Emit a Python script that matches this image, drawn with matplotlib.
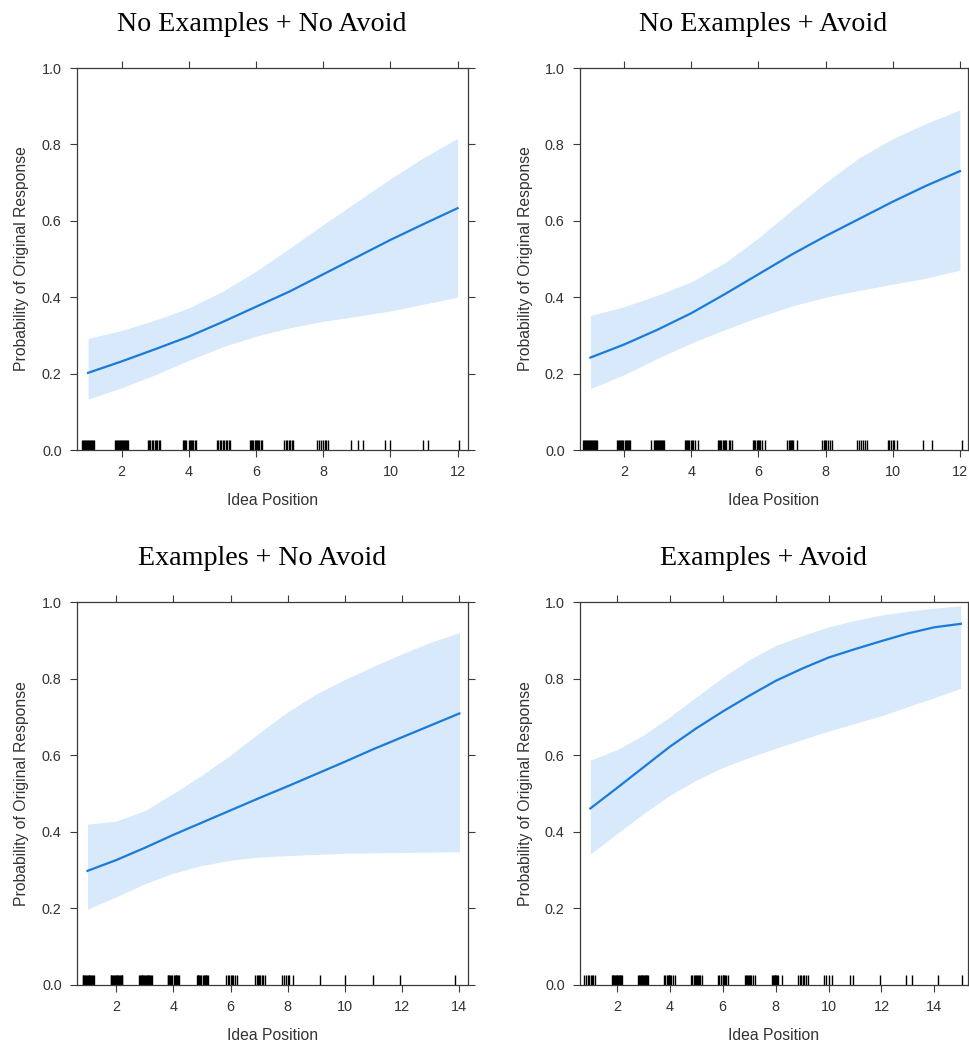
import numpy as np
import matplotlib.pyplot as plt

# panel titles
titles = ["No Examples + No Avoid", "No Examples + Avoid",
          "Examples + No Avoid", "Examples + Avoid"]

# idea positions used for each fitted curve
x1 = [1, 2, 3, 4, 5, 6, 7, 8, 9, 10, 11, 12]
x2 = [1, 2, 3, 4, 5, 6, 7, 8, 9, 10, 11, 12]
x3 = [1, 2, 3, 4, 5, 6, 7, 8, 9, 10, 11, 12, 13, 14]
x4 = [1, 2, 3, 4, 5, 6, 7, 8, 9, 10, 11, 12, 13, 14, 15]

# fitted probability and confidence band
fit1 = [0.202, 0.232, 0.264, 0.297, 0.335, 0.375, 0.415, 0.46, 0.505, 0.55, 0.592, 0.633]
up1 = [0.292, 0.313, 0.34, 0.372, 0.415, 0.468, 0.528, 0.59, 0.65, 0.71, 0.766, 0.816]
lo1 = [0.133, 0.163, 0.197, 0.235, 0.27, 0.298, 0.32, 0.337, 0.35, 0.364, 0.382, 0.40]

fit2 = [0.242, 0.276, 0.315, 0.358, 0.408, 0.46, 0.512, 0.56, 0.605, 0.65, 0.692, 0.73]
up2 = [0.352, 0.375, 0.405, 0.44, 0.49, 0.555, 0.628, 0.70, 0.765, 0.815, 0.855, 0.89]
lo2 = [0.161, 0.197, 0.24, 0.28, 0.315, 0.348, 0.377, 0.40, 0.418, 0.434, 0.45, 0.471]

fit3 = [0.298, 0.326, 0.358, 0.392, 0.424, 0.456, 0.488, 0.519, 0.551, 0.583, 0.616, 0.647, 0.678, 0.709]
up3 = [0.42, 0.428, 0.455, 0.50, 0.548, 0.60, 0.658, 0.713, 0.76, 0.798, 0.832, 0.865, 0.895, 0.92]
lo3 = [0.198, 0.23, 0.264, 0.292, 0.312, 0.326, 0.334, 0.338, 0.341, 0.344, 0.345, 0.346, 0.347, 0.348]

fit4 = [0.461, 0.514, 0.568, 0.622, 0.67, 0.714, 0.755, 0.794, 0.826, 0.855, 0.877, 0.898, 0.918, 0.934, 0.943]
up4 = [0.587, 0.614, 0.652, 0.70, 0.752, 0.803, 0.849, 0.886, 0.912, 0.935, 0.952, 0.966, 0.976, 0.984, 0.99]
lo4 = [0.342, 0.395, 0.447, 0.495, 0.535, 0.568, 0.594, 0.618, 0.641, 0.663, 0.683, 0.703, 0.727, 0.75, 0.775]

# rug of (jittered) observed idea positions
rug1 = [0.82, 0.85, 0.88, 0.91, 0.94, 0.97, 1.0, 1.03, 1.06, 1.09, 1.12, 1.16, 1.19,
        1.8, 1.83, 1.86, 1.89, 1.92, 1.95, 1.98, 2.01, 2.04, 2.07, 2.1, 2.13, 2.16, 2.18,
        2.79, 2.82, 2.85, 2.9, 2.93, 2.98, 3.02, 3.05, 3.1, 3.13,
        3.82, 3.85, 3.88, 3.92, 3.99, 4.02, 4.05, 4.09, 4.13, 4.17, 4.21,
        4.83, 4.87, 4.92, 4.97, 5.02, 5.06, 5.1, 5.14, 5.19, 5.23,
        5.82, 5.85, 5.88, 5.92, 5.96, 6.0, 6.03, 6.06, 6.1, 6.14, 6.18,
        6.84, 6.88, 6.92, 6.97, 7.02, 7.06, 7.1,
        7.81, 7.87, 7.92, 7.98, 8.04, 8.09, 8.13,
        8.84, 9.04, 9.18, 9.83, 9.98, 10.97, 11.12, 12.04]
rug2 = [0.79, 0.82, 0.85, 0.88, 0.91, 0.94, 0.97, 1.0, 1.03, 1.06, 1.09, 1.12, 1.15, 1.18, 1.21,
        1.78, 1.81, 1.84, 1.87, 1.9, 1.93, 1.96, 2.03, 2.06, 2.09, 2.12, 2.15, 2.18,
        2.8, 2.9, 2.93, 2.96, 2.99, 3.02, 3.05, 3.08, 3.11, 3.14, 3.17, 3.2,
        3.82, 3.85, 3.88, 3.91, 3.94, 4.0, 4.03, 4.06, 4.12, 4.21,
        4.81, 4.84, 4.87, 4.9, 4.96, 4.99, 5.02, 5.05, 5.12, 5.15, 5.21,
        5.85, 5.88, 5.91, 5.97, 6.0, 6.03, 6.06, 6.12, 6.2,
        6.84, 6.9, 6.93, 6.96, 6.99, 7.02, 7.14,
        7.9, 7.94, 7.98, 8.02, 8.08, 8.12, 8.2,
        8.93, 8.99, 9.05, 9.12, 9.18, 9.23,
        9.85, 9.9, 9.95, 10.0, 10.05, 10.12,
        10.91, 11.16, 12.07]
rug3 = [0.83, 0.86, 0.89, 0.92, 0.95, 0.98, 1.01, 1.04, 1.07, 1.1, 1.13, 1.16, 1.19, 1.22,
        1.81, 1.84, 1.87, 1.9, 1.93, 1.96, 1.99, 2.02, 2.05, 2.08, 2.11, 2.14, 2.17, 2.2, 2.22,
        2.8, 2.83, 2.86, 2.89, 2.92, 2.95, 2.98, 3.01, 3.04, 3.07, 3.1, 3.13, 3.16, 3.19, 3.22, 3.25,
        3.8, 3.83, 3.86, 3.89, 3.92, 3.95, 4.02, 4.05, 4.08, 4.11, 4.14, 4.17, 4.21,
        4.82, 4.85, 4.88, 4.91, 4.94, 4.97, 5.04, 5.07, 5.1, 5.13, 5.16, 5.19, 5.23,
        5.85, 5.9, 5.95, 6.0, 6.05, 6.1, 6.14, 6.22,
        6.87, 6.93, 6.97, 7.0, 7.03, 7.1, 7.13, 7.19,
        7.8, 7.88, 7.94, 8.0, 8.06, 8.18,
        9.14, 9.99, 10.98, 11.94, 13.83]
rug4 = [0.78, 0.83, 0.9, 0.96, 1.02, 1.08, 1.12, 1.18,
        1.81, 1.84, 1.87, 1.9, 1.93, 1.96, 1.99, 2.02, 2.05, 2.08, 2.11, 2.14, 2.17, 2.21,
        2.82, 2.85, 2.88, 2.91, 2.94, 2.97, 3.0, 3.03, 3.06, 3.09, 3.12, 3.15, 3.19,
        3.8, 3.84, 3.9, 3.93, 3.96, 3.99, 4.02, 4.06, 4.12, 4.2,
        4.81, 4.86, 4.92, 4.95, 4.98, 5.04, 5.07, 5.1, 5.14, 5.21,
        5.82, 5.86, 5.93, 6.0, 6.03, 6.06, 6.09, 6.12, 6.19,
        6.85, 6.9, 6.93, 6.96, 6.99, 7.02, 7.08, 7.14, 7.22,
        7.86, 7.9, 7.93, 7.96, 7.99, 8.02, 8.05, 8.1, 8.23,
        8.84, 8.92, 8.97, 9.02, 9.08, 9.14, 9.22,
        9.84, 9.9, 10.0, 10.12,
        10.81, 10.94, 11.95, 12.93, 13.14, 14.13, 15.03]

xs = [x1, x2, x3, x4]
fits = [fit1, fit2, fit3, fit4]
ups = [up1, up2, up3, up4]
los = [lo1, lo2, lo3, lo4]
rugs = [rug1, rug2, rug3, rug4]
xlims = [(0.67, 12.31), (0.69, 12.24), (0.635, 14.3), (0.61, 15.27)]
xticks = [[2, 4, 6, 8, 10, 12], [2, 4, 6, 8, 10, 12],
          [2, 4, 6, 8, 10, 12, 14], [2, 4, 6, 8, 10, 12, 14]]

W, H = 969, 1044
fig = plt.figure(figsize=(W / 100, H / 100), dpi=100)

# pixel boxes (left, top, right, bottom)
boxes = [(77, 68, 468, 450), (580, 68, 968, 450),
         (77, 602, 468, 985), (580, 602, 968, 985)]

line_col = '#1a7bd8'
band_col = '#d7e9fb'
axis_col = '#3a3a3a'

for i in range(4):
    l, t, r, b = boxes[i]
    ax = fig.add_axes([l / W, 1 - b / H, (r - l) / W, (b - t) / H])
    ax.fill_between(xs[i], los[i], ups[i], color=band_col, lw=0)
    ax.plot(xs[i], fits[i], color=line_col, lw=1.6)
    ax.vlines(rugs[i], 0, 0.026, color='black', lw=1.0)

    ax.set_xlim(*xlims[i])
    ax.set_ylim(0, 1)
    ax.set_xticks(xticks[i])
    ax.set_yticks([0, 0.2, 0.4, 0.6, 0.8, 1.0])
    ax.set_yticklabels(['0.0', '0.2', '0.4', '0.6', '0.8', '1.0'])
    ax.tick_params(direction='out', length=5, width=0.8, color=axis_col,
                   labelsize=10.4, labelcolor='#333333', top=True, right=True,
                   pad=6)
    for s in ax.spines.values():
        s.set_color(axis_col)
        s.set_linewidth(0.9)
    for lab in ax.get_xticklabels() + ax.get_yticklabels():
        lab.set_family('Liberation Sans')

    ax.set_xlabel('Idea Position', fontsize=11.3, family='Liberation Sans',
                  color='#333333', labelpad=10)
    ax.set_ylabel('Probability of Original Response', fontsize=11.3,
                  family='Liberation Sans', color='#333333')
    ax.yaxis.set_label_coords(-0.122, 0.5)
    ax.text(0.473, 1.097, titles[i], transform=ax.transAxes, ha='center',
            va='baseline', fontsize=20.2, family='Liberation Serif', color='black')

fig.savefig('out.png', dpi=100, facecolor='white')
